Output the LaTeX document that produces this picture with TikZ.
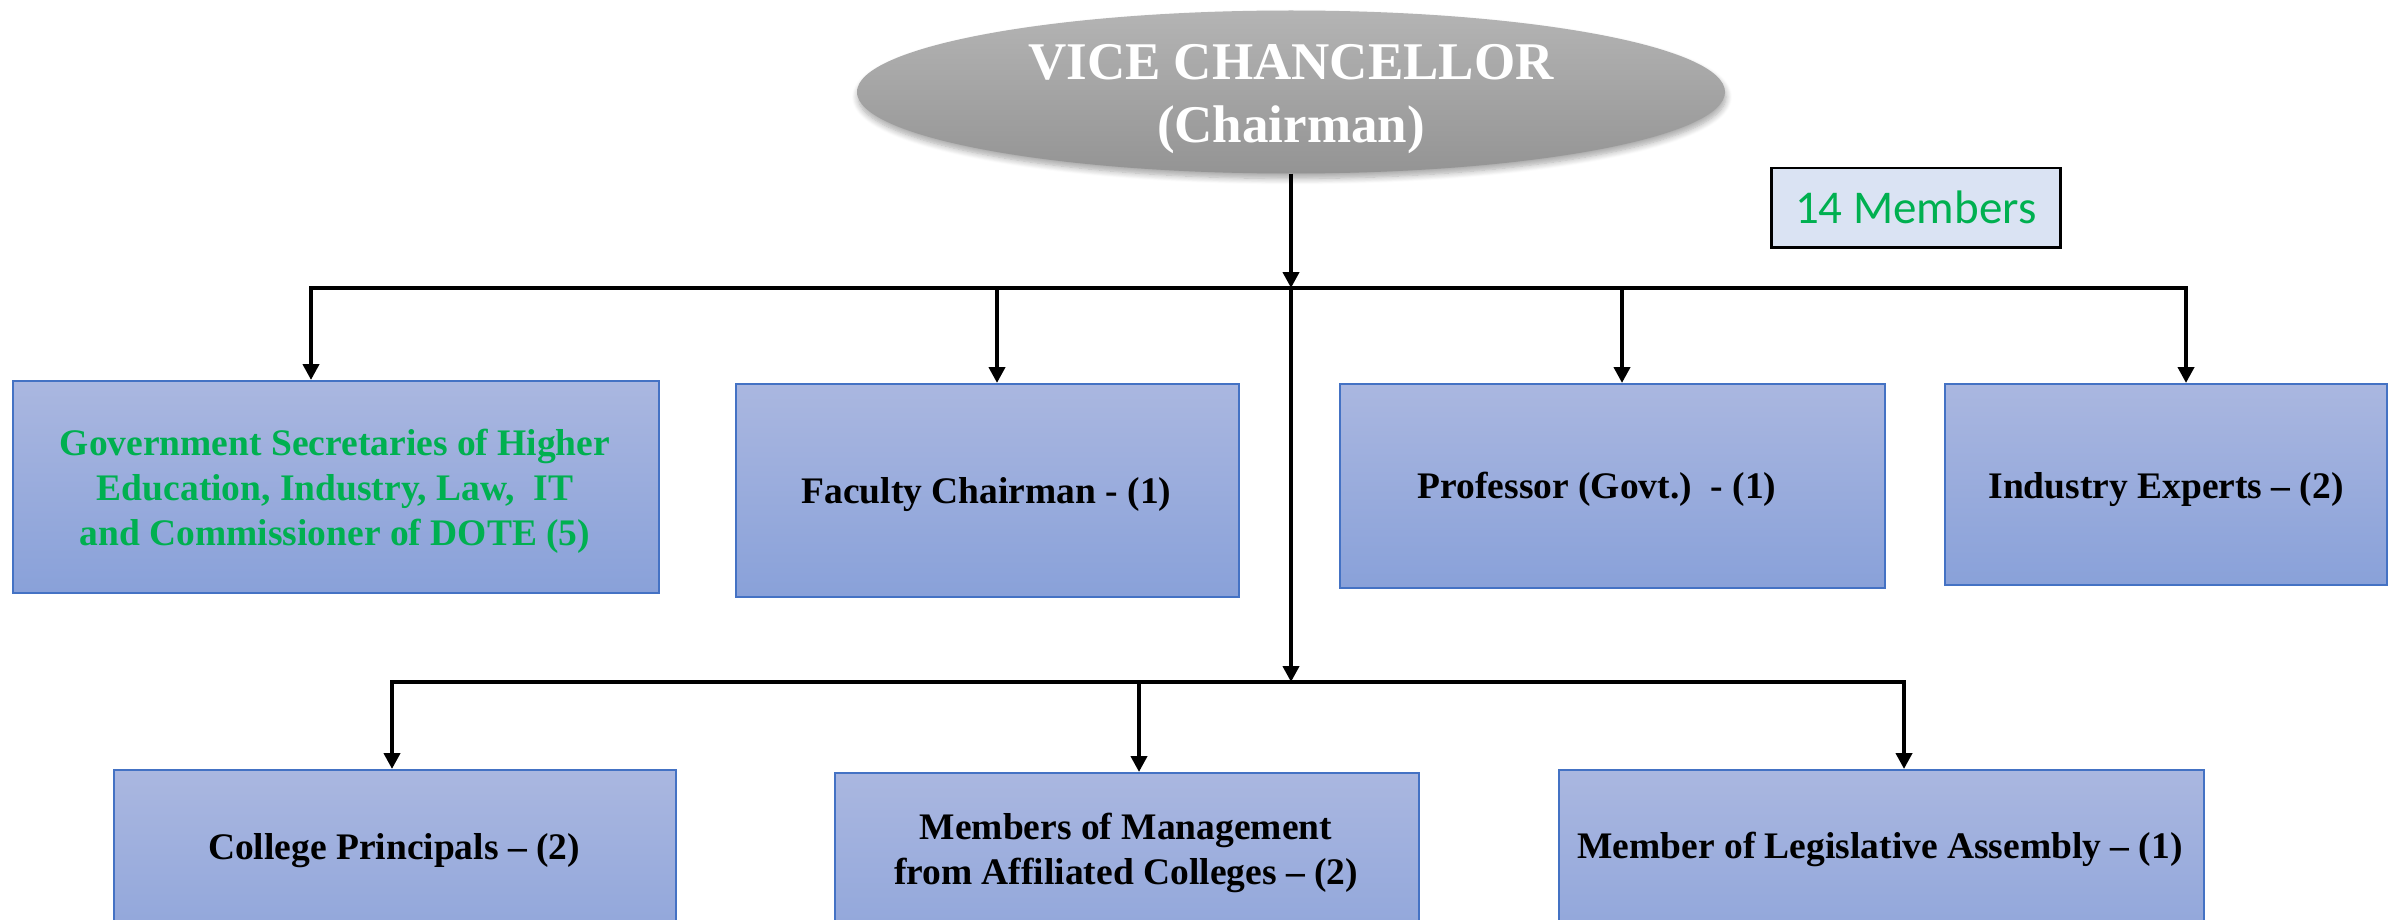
\documentclass[tikz,border=0pt]{standalone}
\usepackage{fontspec}
\setmainfont{Liberation Serif}
\newfontfamily\memfont{Carlito}
\usetikzlibrary{arrows.meta,shapes.geometric,shadows.blur}
\definecolor{boxtop}{RGB}{170,183,224}
\definecolor{boxbot}{RGB}{137,161,217}
\definecolor{boxline}{RGB}{68,114,196}
\definecolor{offgreen}{RGB}{0,176,80}
\definecolor{memfill}{RGB}{218,227,243}
\definecolor{elltop}{RGB}{180,180,180}
\definecolor{ellbot}{RGB}{148,148,148}
\begin{document}
\begin{tikzpicture}[x=1pt,y=-1pt,
  box/.style={draw=boxline, line width=1.5pt, top color=boxtop, bottom color=boxbot,
    anchor=north west, inner sep=0pt},
  lbl/.style={align=center, inner sep=0pt, font=\bfseries\fontsize{37.5}{45}\selectfont},
  bus/.style={line width=4.5pt, line cap=rect},
  arr/.style={line width=4pt, -{Triangle[width=16pt,length=16pt]}},
  membox/.style={draw=black, line width=2.5pt, fill=memfill, text=offgreen, anchor=north west,
    inner sep=0pt, font=\memfont\fontsize{47}{56}\selectfont},
]
\useasboundingbox (0,0) rectangle (2389,920);
\clip (0,0) rectangle (2389,920);

% top node
\node[ellipse, minimum width=868pt, minimum height=163pt, top color=elltop, bottom color=ellbot,
  blur shadow={shadow xshift=1pt, shadow yshift=-5pt, shadow blur radius=6pt,
    shadow blur steps=8, shadow opacity=35}, inner sep=0pt] (vc) at (1291,92) {};
\node[text=white, align=center, inner sep=0pt,
  font=\bfseries\fontsize{53}{63}\selectfont] (vct) at (1291,99) {VICE CHANCELLOR\\(Chairman)};

\node[membox, minimum width=289pt, minimum height=79pt] (mem) at (1770,167) {14 Members};

% first row
\node[box, minimum width=646pt, minimum height=212pt] (gov) at (12,380) {};
\node[lbl, text=offgreen] (govt) at (335,491)
  {Government Secretaries of Higher\\Education, Industry, Law,\ \ IT\\and Commissioner of DOTE (5)};
\node[box, minimum width=503pt, minimum height=213pt] (fac) at (735,383) {};
\node[lbl, anchor=base] (fact) at (986.5,503) {Faculty Chairman - (1)};
\node[box, minimum width=545pt, minimum height=204pt] (prof) at (1339,383) {};
\node[lbl, anchor=base] (proft) at (1597,498) {Professor (Govt.)\ \ - (1)};
\node[box, minimum width=442pt, minimum height=201pt] (ind) at (1944,383) {};
\node[lbl, anchor=base] (indt) at (2166,498) {Industry Experts -- (2)};

% second row
\node[box, minimum width=562pt, minimum height=220pt] (col) at (113,769) {};
\node[lbl, anchor=base] (colt) at (394,859) {College Principals -- (2)};
\node[box, minimum width=584pt, minimum height=220pt] (mgmt) at (834,772) {};
\node[lbl] (mgmtt) at (1126,853) {Members of Management\\from Affiliated Colleges -- (2)};
\node[box, minimum width=645pt, minimum height=220pt] (leg) at (1558,769) {};
\node[lbl, anchor=base] (legt) at (1880,858) {Member of Legislative Assembly -- (1)};

% bus coordinates
\coordinate (t1) at (311,288);
\coordinate (t2) at (997,288);
\coordinate (tc) at (1291,288);
\coordinate (t3) at (1622,288);
\coordinate (t4) at (2186,288);
\coordinate (b1) at (392,682);
\coordinate (b2) at (1139,682);
\coordinate (bc) at (1291,682);
\coordinate (b3) at (1904,682);

% connectors
\draw[arr] (vc.south) -- (tc);
\draw[bus] (t1) -- (t4);
\draw[arr] (t1) -- (t1 |- gov.north);
\draw[arr] (t2) -- (t2 |- fac.north);
\draw[arr] (t3) -- (t3 |- prof.north);
\draw[arr] (t4) -- (t4 |- ind.north);
\draw[arr] (tc) -- (bc);
\draw[bus] (b1) -- (b3);
\draw[arr] (b1) -- (b1 |- col.north);
\draw[arr] (b2) -- (b2 |- mgmt.north);
\draw[arr] (b3) -- (b3 |- leg.north);
\end{tikzpicture}
\end{document}
